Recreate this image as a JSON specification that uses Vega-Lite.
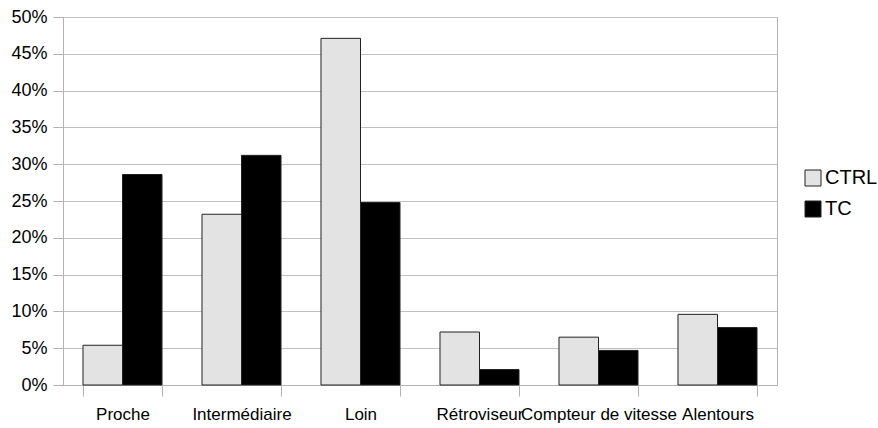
{
  "$schema": "https://vega.github.io/schema/vega-lite/v6.json",
  "width": 714,
  "height": 368,
  "autosize": "none",
  "padding": {"left": 63, "top": 17, "right": 101, "bottom": 43},
  "background": "white",
  "data": {
    "values": [
      {"category": "Proche", "group": "CTRL", "value": 0.054},
      {"category": "Proche", "group": "TC", "value": 0.286},
      {"category": "Intermédiaire", "group": "CTRL", "value": 0.232},
      {"category": "Intermédiaire", "group": "TC", "value": 0.312},
      {"category": "Loin", "group": "CTRL", "value": 0.471},
      {"category": "Loin", "group": "TC", "value": 0.248},
      {"category": "Rétroviseur", "group": "CTRL", "value": 0.072},
      {"category": "Rétroviseur", "group": "TC", "value": 0.021},
      {"category": "Compteur de vitesse", "group": "CTRL", "value": 0.065},
      {"category": "Compteur de vitesse", "group": "TC", "value": 0.047},
      {"category": "Alentours", "group": "CTRL", "value": 0.096},
      {"category": "Alentours", "group": "TC", "value": 0.078}
    ]
  },
  "mark": {"type": "bar", "stroke": "#222222", "strokeWidth": 1},
  "encoding": {
    "x": {
      "field": "category",
      "type": "nominal",
      "sort": ["Proche", "Intermédiaire", "Loin", "Rétroviseur", "Compteur de vitesse", "Alentours"],
      "scale": {"paddingInner": 0.336, "paddingOuter": 0.168},
      "axis": {
        "title": null,
        "labelAngle": 0,
        "labelOverlap": false,
        "labelLimit": 0,
        "labelBound": false,
        "tickBand": "extent",
        "tickSize": 11,
        "tickColor": "#b3b3b3",
        "domainColor": "#b3b3b3",
        "labelPadding": 10,
        "labelFontSize": 17,
        "labelFont": "Liberation Sans",
        "labelColor": "#000000"
      }
    },
    "xOffset": {
      "field": "group",
      "type": "nominal",
      "sort": ["CTRL", "TC"],
      "scale": {"paddingInner": 0, "paddingOuter": 0}
    },
    "y": {
      "field": "value",
      "type": "quantitative",
      "scale": {"domain": [0, 0.5], "nice": false},
      "axis": {
        "title": null,
        "format": ".0%",
        "values": [0, 0.05, 0.1, 0.15, 0.2, 0.25, 0.3, 0.35, 0.4, 0.45, 0.5],
        "tickSize": 10,
        "tickColor": "#b3b3b3",
        "domainColor": "#b3b3b3",
        "gridColor": "#c0c0c0",
        "labelPadding": 6,
        "labelFontSize": 18,
        "labelFont": "Liberation Sans",
        "labelColor": "#000000"
      }
    },
    "color": {
      "field": "group",
      "type": "nominal",
      "scale": {"domain": ["CTRL", "TC"], "range": ["#e3e3e3", "#000000"]},
      "legend": {
        "title": null,
        "orient": "none",
        "legendX": 740,
        "legendY": 151,
        "symbolType": "square",
        "symbolSize": 256,
        "symbolStrokeColor": "#222222",
        "symbolStrokeWidth": 1,
        "labelFontSize": 20,
        "labelFont": "Liberation Sans",
        "labelColor": "#000000",
        "labelOffset": 2,
        "rowPadding": 11
      }
    }
  },
  "config": {
    "view": {"stroke": "#b3b3b3"}
  }
}
